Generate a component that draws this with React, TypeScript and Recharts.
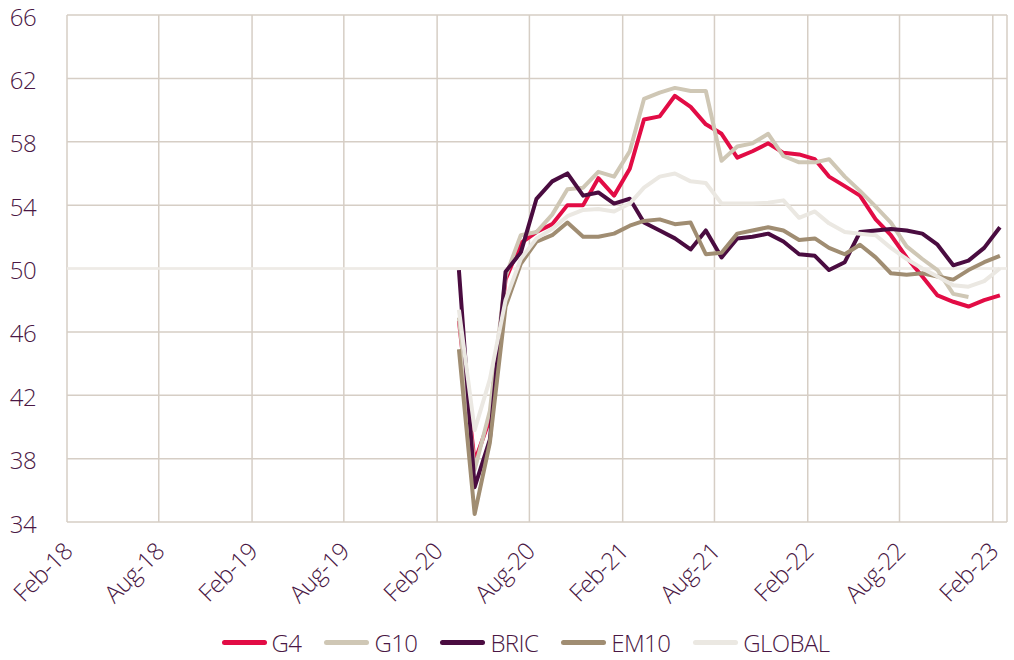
import { LineChart, Line, XAxis, YAxis, CartesianGrid, Legend } from "recharts";

// monthly readings, Mar-20 .. Feb-23
const MONTHS = [
  "Mar-20", "Apr-20", "May-20", "Jun-20", "Jul-20", "Aug-20", "Sep-20", "Oct-20", "Nov-20", "Dec-20",
  "Jan-21", "Feb-21", "Mar-21", "Apr-21", "May-21", "Jun-21", "Jul-21", "Aug-21", "Sep-21", "Oct-21", "Nov-21", "Dec-21",
  "Jan-22", "Feb-22", "Mar-22", "Apr-22", "May-22", "Jun-22", "Jul-22", "Aug-22", "Sep-22", "Oct-22", "Nov-22", "Dec-22",
  "Jan-23", "Feb-23",
];

const G4 = [
  46.7, 37.8, 40.5, 49.3, 51.6, 52.3, 52.8, 54.0, 54.0, 55.7,
  54.6, 56.3, 59.4, 59.6, 60.9, 60.2, 59.1, 58.5, 57.0, 57.4, 57.9, 57.3,
  57.2, 56.9, 55.8, 55.2, 54.6, 53.1, 52.1, 50.7, 49.5, 48.3, 47.9, 47.6,
  48.0, 48.3,
];
const G10 = [
  46.9, 37.3, 41.0, 49.5, 52.1, 52.3, 53.4, 55.0, 55.1, 56.1,
  55.8, 57.4, 60.7, 61.1, 61.4, 61.2, 61.2, 56.8, 57.7, 57.9, 58.5, 57.1,
  56.7, 56.7, 56.9, 55.8, 54.9, 53.9, 52.9, 51.4, 50.6, 49.9, 48.4, 48.2,
  null, null,
];
const BRIC = [
  49.9, 36.2, 39.2, 49.8, 51.0, 54.4, 55.5, 56.0, 54.6, 54.8,
  54.1, 54.4, 52.9, 52.4, 51.9, 51.2, 52.4, 50.7, 51.9, 52.0, 52.2, 51.7,
  50.9, 50.8, 49.9, 50.4, 52.3, 52.4, 52.5, 52.4, 52.2, 51.5, 50.2, 50.5,
  51.3, 52.6,
];
const EM10 = [
  44.9, 34.5, 39.0, 47.6, 50.3, 51.7, 52.1, 52.9, 52.0, 52.0,
  52.2, 52.7, 53.0, 53.1, 52.8, 52.9, 50.9, 51.0, 52.2, 52.4, 52.6, 52.4,
  51.8, 51.9, 51.3, 50.9, 51.5, 50.7, 49.7, 49.6, 49.7, 49.5, 49.3, 49.9,
  50.4, 50.8,
];
const GLOBAL = [
  47.4, 39.8, 43.0, 48.0, 50.6, 51.9, 52.5, 53.3, 53.7, 53.75,
  53.6, 54.1, 55.1, 55.8, 56.0, 55.5, 55.4, 54.1, 54.1, 54.1, 54.15, 54.3,
  53.2, 53.6, 52.85, 52.3, 52.2, 52.1, 51.3, 50.6, 50.0, 49.5, 48.95, 48.85,
  49.2, 50.0,
];

const X_TICKS = [
  "Feb-18", "Aug-18", "Feb-19", "Aug-19", "Feb-20", "Aug-20",
  "Feb-21", "Aug-21", "Feb-22", "Aug-22", "Feb-23",
];
const X_END = "Mar-23";
const Y_TICKS = [34, 38, 42, 46, 50, 54, 58, 62, 66];

const TEXT = "#4a1744";
const FONT = "'Open Sans', sans-serif";

const SERIES = [
  { key: "G4", color: "#e20c45" },
  { key: "G10", color: "#cfc7b5" },
  { key: "BRIC", color: "#4a0c40" },
  { key: "EM10", color: "#a08d72" },
  { key: "GLOBAL", color: "#ebe8e2" },
];

const MON = ["Jan", "Feb", "Mar", "Apr", "May", "Jun", "Jul", "Aug", "Sep", "Oct", "Nov", "Dec"];
function toTime(label: string, day: number) {
  const [m, y] = label.split("-");
  return Date.UTC(2000 + Number(y), MON.indexOf(m), day);
}

// readings sit mid-month, gridlines on the 1st
const data = MONTHS.map((m, i) => ({
  t: toTime(m, 15),
  G4: G4[i],
  G10: G10[i],
  BRIC: BRIC[i],
  EM10: EM10[i],
  GLOBAL: GLOBAL[i],
}));

const tickTimes = X_TICKS.map((l) => toTime(l, 1));
const tickLabel = new Map(tickTimes.map((t, i) => [t, X_TICKS[i]]));

function XTick({ x, y, payload }: any) {
  const ax = x + 7;
  const ay = y + 29;
  return (
    <text
      x={ax}
      y={ay}
      transform={`rotate(-45, ${ax}, ${ay})`}
      textAnchor="end"
      fill={TEXT}
      fontSize={24}
      fontWeight={300}
      letterSpacing={-0.6}
      fontFamily={FONT}
    >
      {tickLabel.get(payload.value)}
    </text>
  );
}

function YTick({ x, y, payload }: any) {
  return (
    <text
      x={x}
      y={y + 2}
      dy="0.355em"
      textAnchor="end"
      fill={TEXT}
      fontSize={24}
      fontWeight={300}
      letterSpacing={-0.6}
      fontFamily={FONT}
    >
      {payload.value}
    </text>
  );
}

function LegendBox() {
  return (
    <div
      style={{
        display: "flex",
        justifyContent: "center",
        alignItems: "center",
        height: 36,
        paddingLeft: 67,
        fontFamily: FONT,
        fontSize: 24,
        fontWeight: 300,
        letterSpacing: -0.6,
        color: TEXT,
      }}
    >
      {SERIES.map((s) => (
        <div key={s.key} style={{ display: "flex", alignItems: "center", marginRight: 23 }}>
          <span
            style={{
              display: "inline-block",
              width: 45,
              height: 5,
              borderRadius: 3,
              background: s.color,
              marginRight: 5,
            }}
          />
          <span>{s.key}</span>
        </div>
      ))}
    </div>
  );
}

export default function App() {
  return (
    <div style={{ position: "absolute", left: 0, top: 0, background: "#fff" }}>
      <LineChart width={1014} height={660} data={data} margin={{ top: 15, right: 7, bottom: 0, left: 0 }}>
        <CartesianGrid stroke="#d6cec5" strokeWidth={1.5} />
        <CartesianGrid stroke="#eeebe6" strokeWidth={2.5} vertical={false} horizontalValues={[50]} />
        <XAxis
          dataKey="t"
          type="number"
          domain={[tickTimes[0], toTime(X_END, 1)]}
          ticks={tickTimes}
          interval={0}
          axisLine={false}
          tickLine={false}
          tickSize={0}
          height={102}
          tick={<XTick />}
          allowDataOverflow
        />
        <YAxis
          domain={[34, 66]}
          ticks={Y_TICKS}
          interval={0}
          width={67}
          axisLine={false}
          tickLine={false}
          tickSize={0}
          tickMargin={31}
          tick={<YTick />}
        />
        <Legend verticalAlign="bottom" height={36} content={<LegendBox />} />
        {SERIES.map((s) => (
          <Line
            key={s.key}
            dataKey={s.key}
            type="linear"
            stroke={s.color}
            strokeWidth={4}
            strokeLinejoin="round"
            dot={false}
            activeDot={false}
            isAnimationActive={false}
          />
        ))}
      </LineChart>
    </div>
  );
}
